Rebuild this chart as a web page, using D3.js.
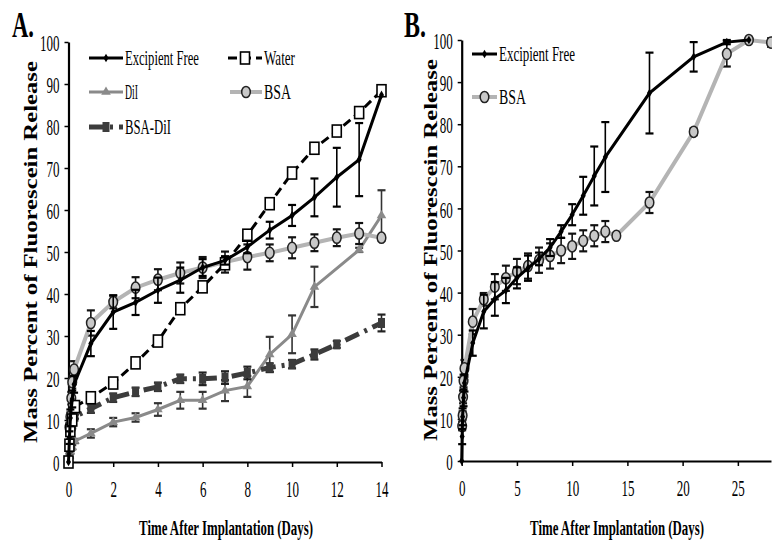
<!DOCTYPE html>
<html>
<head>
<meta charset="utf-8">
<script src="https://cdn.jsdelivr.net/npm/d3@7"></script>
<style>
  body { margin: 0; background: #fff; }
  text { font-family: "Liberation Serif", "Times New Roman", serif; }
</style>
</head>
<body>
<svg width="772" height="551"></svg>
<script>
// ---- data ----
// panel A
var efDaysA = [0, 0.042, 0.083, 0.167, 0.25, 1, 2, 3, 4, 5, 6, 7, 8, 9, 10, 11, 12, 13, 14];
var efA     = [0, 5.8, 10.5, 15, 18.5, 28.2, 35.7, 38, 40.9, 43.3, 46.3, 48, 51.2, 55.2, 58.7, 63, 67.8, 72, 87.4];
var efErrA  = [0, 1.5, 2, 2, 2, 3, 4, 3, 3, 3, 2, 1, 1.5, 2, 2.5, 4.5, 7, 8.7, 0];

var waterDays = [0, 0.042, 0.083, 0.167, 0.29, 1, 2, 3, 4, 5, 6, 7, 8, 9, 10, 11, 12, 13, 14];
var water     = [0, 4, 7.5, 10, 13.2, 15.3, 18.8, 23.6, 28.8, 36.5, 41.7, 47.2, 54, 61.5, 68.8, 74.7, 78.8, 83.2, 88.4];

var dilDays = [0, 0.042, 0.083, 0.167, 0.29, 1, 2, 3, 4, 5, 6, 7, 8, 9, 10, 11, 13, 14];
var dil     = [0, 1.5, 2.5, 3.5, 5, 6.8, 9.5, 10.6, 12.5, 14.7, 14.7, 17, 18, 25.6, 30.4, 41.7, 50.5, 58.7];
var dilErr  = [0, 0.5, 0.5, 0.5, 0.5, 1, 1, 1, 1.5, 2, 2, 2.5, 2.5, 4.2, 4.5, 4.8, 0.5, 6];

var bsaDilDays = [0, 0.042, 0.083, 0.167, 0.29, 1, 2, 3, 4, 5, 6, 7, 8, 9, 10, 11, 12, 14];
var bsaDil     = [0, 3.3, 6, 8.5, 10.8, 12.7, 15.3, 16.7, 17.9, 19.8, 19.8, 20.1, 21.2, 22.5, 23.3, 25.6, 28, 33.1];
var bsaDilErr  = [0, 0.5, 0.5, 0.5, 0.5, 1, 1, 1, 1, 1, 1.5, 1.5, 1.5, 1, 1, 1.2, 0.8, 2];

var bsaDaysA = [0.042, 0.083, 0.125, 0.167, 0.25, 1, 2, 3, 4, 5, 6, 7, 8, 9, 10, 11, 12, 13, 14];
var bsaA     = [8.3, 10.8, 15.2, 19, 22, 33.1, 38.1, 41.5, 43.4, 45, 46.3, 47.6, 48.8, 49.8, 51, 52.2, 53.4, 54.4, 53.4];
var bsaErrA  = [1, 1, 1.5, 1.5, 2, 3, 1.5, 2.5, 2.5, 2.5, 2.5, 2.5, 3, 2, 2.5, 2, 2, 2.5, 0];

// panel B
var efDaysB = [0, 0.042, 0.083, 0.167, 0.25, 1, 2, 3, 4, 5, 6, 7, 8, 9, 10, 11, 12, 13, 17, 21, 24, 26];
var efB     = [0, 5.8, 10.5, 15, 18.5, 28, 35.5, 38.5, 40.5, 43.5, 45.8, 48, 50.7, 54.5, 58.5, 63, 67.7, 72.2, 87.4, 96, 99.5, 100];
var efErrB  = [0, 1.8, 2, 2, 2, 3, 4, 4, 3, 2.5, 3, 1.5, 2, 1.5, 2.5, 4.5, 7, 8.3, 9.6, 3.5, 0.5, 0];

var bsaDaysB = [0.042, 0.083, 0.125, 0.167, 0.25, 1, 2, 3, 4, 5, 6, 7, 8, 9, 10, 11, 12, 13, 14, 17, 21, 24, 26, 28];
var bsaB     = [8.3, 10.8, 15.2, 19, 22, 33.1, 38.4, 41.4, 43.4, 45, 46.3, 47.7, 48.7, 50, 51, 52.3, 53.5, 54.5, 53.5, 61.4, 78.2, 96.7, 100, 99.4];
var bsaErrB  = [1, 1, 1.5, 1.5, 2, 3, 1.5, 3, 3, 3, 3, 3, 3, 3, 3, 2.5, 2.5, 2.5, 0, 2.5, 0.8, 3, 0, 1];

var yTicks = [0, 10, 20, 30, 40, 50, 60, 70, 80, 90, 100];
var xTicksA = [0, 2, 4, 6, 8, 10, 12, 14];
var xTicksB = [0, 5, 10, 15, 20, 25];

var svg = d3.select('svg');

// zip days/values/errors into point objects
var pts = function(days, vals, errs) {
	return days.map((d, i) => ({x: d, y: vals[i], e: errs ? errs[i] : 0}));
}

// series styles
var styles = {
	ef:     {color: '#000', width: 3, dash: null, marker: 'diamond', errColor: '#000'},
	water:  {color: '#000', width: 3, dash: '9,5', marker: 'openSquare', errColor: '#000'},
	dil:    {color: '#8a8a8a', width: 3, dash: null, marker: 'triangle', errColor: '#333'},
	bsa:    {color: '#b4b4b4', width: 4, dash: null, marker: 'circle', errColor: '#111'},
	bsaDil: {color: '#3c3c3c', width: 5, dash: '15,6,3,6', marker: 'square', errColor: '#222'}
};

// squeeze a text horizontally to a target width (the source figure uses a condensed face)
var squeeze = function(t, x, y, w, rot) {
	var n = t.node().getComputedTextLength();
	var tr = 'translate(' + x + ',' + y + ')' + (rot ? ' rotate(' + rot + ')' : '') + ' scale(' + (w / n) + ',1)';
	return t.attr('x', 0).attr('y', 0).attr('transform', tr);
}

var drawMarker = function(g, type, x, y) {
	if (type === 'diamond') {
		g.append('path').attr('d', d3.symbol(d3.symbolDiamond, 22)())
			.attr('transform', 'translate(' + x + ',' + y + ')').attr('fill', '#000');
	} else if (type === 'openSquare') {
		g.append('rect').attr('x', x - 4.5).attr('y', y - 6).attr('width', 9).attr('height', 12)
			.attr('fill', '#fff').attr('stroke', '#000').attr('stroke-width', 1.6);
	} else if (type === 'triangle') {
		g.append('path').attr('d', d3.symbol(d3.symbolTriangle, 40)())
			.attr('transform', 'translate(' + x + ',' + y + ')').attr('fill', '#8a8a8a');
	} else if (type === 'circle') {
		g.append('ellipse').attr('cx', x).attr('cy', y).attr('rx', 4.3).attr('ry', 5.6)
			.attr('fill', '#c8c8c8').attr('stroke', '#222').attr('stroke-width', 1.5);
	} else if (type === 'square') {
		g.append('rect').attr('x', x - 3.5).attr('y', y - 5).attr('width', 7).attr('height', 10)
			.attr('fill', '#3c3c3c');
	}
}

var drawSeries = function(g, xScale, yScale, data, st) {
	// error bars
	data.filter(d => d.e > 0).forEach(d => {
		var x = xScale(d.x), y1 = yScale(d.y + d.e), y2 = yScale(d.y - d.e);
		g.append('line').attr('x1', x).attr('x2', x).attr('y1', y1).attr('y2', y2)
			.attr('stroke', st.errColor).attr('stroke-width', 1.6);
		[y1, y2].forEach(yy => {
			g.append('line').attr('x1', x - 4).attr('x2', x + 4).attr('y1', yy).attr('y2', yy)
				.attr('stroke', st.errColor).attr('stroke-width', 2.2);
		})
	})
	var line = d3.line().x(d => xScale(d.x)).y(d => yScale(d.y));
	g.append('path').datum(data).attr('d', line)
		.attr('fill', 'none').attr('stroke', st.color).attr('stroke-width', st.width)
		.attr('stroke-dasharray', st.dash);
	data.forEach(d => drawMarker(g, st.marker, xScale(d.x), yScale(d.y)));
}

var legendItem = function(g, x1, x2, y, st, label, labelW) {
	g.append('line').attr('x1', x1).attr('x2', x2).attr('y1', y).attr('y2', y)
		.attr('stroke', st.color).attr('stroke-width', st.width)
		.attr('stroke-dasharray', st.dash);
	drawMarker(g, st.marker, (x1 + x2) / 2, y);
	var t = g.append('text').attr('font-size', 21).text(label);
	squeeze(t, x2 + 2, y + 7, labelW);
}

var drawPanel = function(p) {
	var xScale = d3.scaleLinear().domain(p.xDomain).range(p.xRange);
	var yScale = d3.scaleLinear().domain([0, 100]).range(p.yRange);
	var g = svg.append('g');

	var yAxis = d3.axisLeft(yScale).tickValues(yTicks).tickSize(4).tickSizeOuter(0).tickPadding(5);
	var xAxis = d3.axisBottom(xScale).tickValues(p.xTicks).tickSize(5).tickSizeOuter(0).tickPadding(10);

	var ya = g.append('g').attr('transform', 'translate(' + p.xRange[0] + ',0)').call(yAxis);
	var xa = g.append('g').attr('transform', 'translate(0,' + p.yRange[0] + ')').call(xAxis);
	[ya, xa].forEach(a => {
		a.select('.domain').attr('stroke-width', 2.2);
		a.selectAll('.tick line').attr('stroke-width', 1.5);
		a.selectAll('text').attr('font-size', 24).attr('font-family', '"Liberation Serif", serif')
			.attr('textLength', d => String(d).length * 6.5).attr('lengthAdjust', 'spacingAndGlyphs');
	})
	xa.selectAll('text').attr('dy', '0.82em');
	ya.selectAll('text').attr('dy', '0.36em');

	// panel letter
	var letter = g.append('text').attr('font-size', 36).attr('font-weight', 'bold').text(p.letter);
	squeeze(letter, p.letterX, 37, 22);

	// axis titles
	var yt = g.append('text').attr('text-anchor', 'middle').attr('font-size', 19).attr('font-weight', 'bold')
		.text('Mass Percent of Fluorescein Release');
	squeeze(yt, p.yTitleX, p.yTitleY, 382, -90);
	var xt = g.append('text').attr('text-anchor', 'middle').attr('font-size', 22).attr('font-weight', 'bold')
		.text('Time After Implantation (Days)');
	squeeze(xt, p.xTitleX, 535, 174);

	var plot = g.append('g');
	p.series.forEach(s => drawSeries(plot, xScale, yScale, s.data, s.style));
	var leg = g.append('g');
	p.legend.forEach(l => legendItem(leg, l.x1, l.x2, l.y, l.style, l.label, l.w));
}

drawPanel({
	letter: 'A.', letterX: 12,
	xDomain: [0, 14], xRange: [68.5, 381.5], yRange: [462, 42], xTicks: xTicksA,
	yTitleX: 37, yTitleY: 252, xTitleX: 226,
	series: [
		{data: pts(dilDays, dil, dilErr), style: styles.dil},
		{data: pts(bsaDilDays, bsaDil, bsaDilErr), style: styles.bsaDil},
		{data: pts(bsaDaysA, bsaA, bsaErrA), style: styles.bsa},
		{data: pts(waterDays, water), style: styles.water},
		{data: pts(efDaysA, efA, efErrA), style: styles.ef}
	],
	legend: [
		{x1: 89, x2: 123, y: 58, style: styles.ef, label: 'Excipient Free', w: 74},
		{x1: 228, x2: 262, y: 58, style: styles.water, label: 'Water', w: 31},
		{x1: 89, x2: 123, y: 92, style: styles.dil, label: 'DiI', w: 13},
		{x1: 230, x2: 262, y: 92, style: styles.bsa, label: 'BSA', w: 27},
		{x1: 89, x2: 123, y: 127, style: styles.bsaDil, label: 'BSA-DiI', w: 46}
	]
});

drawPanel({
	letter: 'B.', letterX: 404,
	xDomain: [0, 28], xRange: [461.7, 771], yRange: [461, 40], xTicks: xTicksB,
	yTitleX: 437, yTitleY: 250, xTitleX: 617,
	series: [
		{data: pts(bsaDaysB, bsaB, bsaErrB), style: styles.bsa},
		{data: pts(efDaysB, efB, efErrB), style: styles.ef}
	],
	legend: [
		{x1: 472, x2: 497, y: 54, style: styles.ef, label: 'Excipient Free', w: 76},
		{x1: 472, x2: 497, y: 97, style: styles.bsa, label: 'BSA', w: 27}
	]
});
</script>
</body>
</html>
